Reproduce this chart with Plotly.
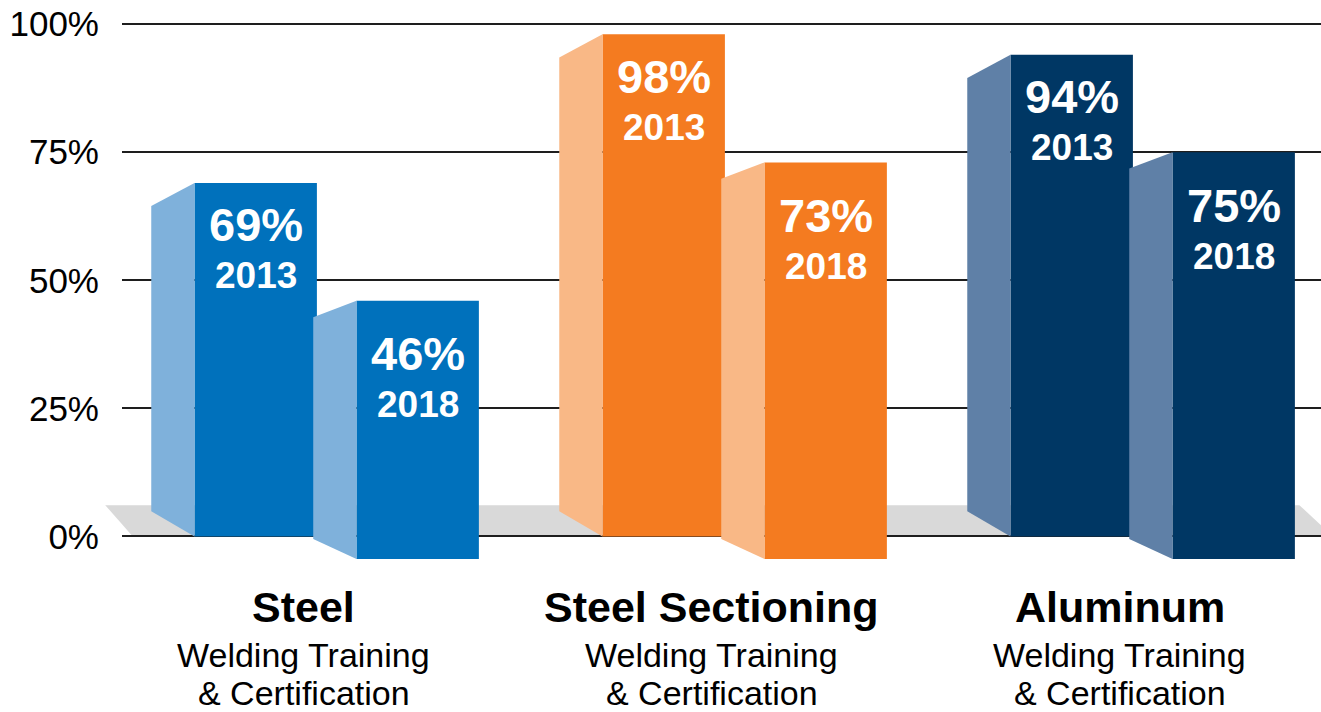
import plotly.graph_objects as go

# ---------------- data ----------------
categories = ["Steel", "Steel Sectioning", "Aluminum"]
subtitle_lines = ["Welding Training", "& Certification"]
years = ["2013", "2018"]
values_2013 = [69, 98, 94]
values_2018 = [46, 73, 75]
y_tick_values = [0, 25, 50, 75, 100]
y_tick_labels = ["0%", "25%", "50%", "75%", "100%"]

# ---------------- style ----------------
FONT = "Liberation Sans, Arial, sans-serif"
front_colors = ["#0071BC", "#F47B20", "#003764"]
side_colors = ["#7FB1DB", "#F9B886", "#5F80A7"]
FLOOR_COLOR = "#D9D9D9"
GRID_COLOR = "#1E1E1E"

Y_MIN, Y_MAX = -5, 101
X_MIN, X_MAX = -0.4453, 2.4934

BAR_W = 0.300
SIDE_DEPTH = 0.106
series_style = {
    "2013": dict(center=-0.1176, base=0.0, top_drop=4.5, bottom_rise=4.9, pct_shift=-42, year_shift=-93),
    "2018": dict(center=0.2794, base=-4.4, top_drop=3.2, bottom_rise=3.9, pct_shift=-53, year_shift=-104),
}
series_values = {"2013": values_2013, "2018": values_2018}

fig = go.Figure()
annotations = []

for yr in years:
    st = series_style[yr]
    vals = series_values[yr]
    xs = [i + st["center"] for i in range(len(categories))]
    # side (left, lighter) faces
    for i, v in enumerate(vals):
        xl = xs[i] - BAR_W / 2
        px = [xl - SIDE_DEPTH, xl, xl, xl - SIDE_DEPTH, xl - SIDE_DEPTH]
        py = [v - st["top_drop"], v, st["base"], st["base"] + st["bottom_rise"], v - st["top_drop"]]
        fig.add_trace(go.Scatter(
            x=px, y=py, mode="lines", fill="toself",
            fillcolor=side_colors[i], line=dict(width=0, color=side_colors[i]),
            hoverinfo="skip", showlegend=False,
        ))
    # front faces
    fig.add_trace(go.Bar(
        x=xs, y=[v - st["base"] for v in vals], base=[st["base"]] * len(vals),
        width=BAR_W, marker=dict(color=front_colors, line=dict(width=0)),
        name=yr, showlegend=False, hoverinfo="skip",
    ))
    for i, v in enumerate(vals):
        annotations.append(dict(
            x=xs[i], y=v, xref="x", yref="y", text=f"<b>{v}%</b>", showarrow=False,
            yanchor="middle", xanchor="center", yshift=st["pct_shift"],
            font=dict(family=FONT, size=47, color="white"),
        ))
        annotations.append(dict(
            x=xs[i], y=v, xref="x", yref="y", text=f"<b>{yr}</b>", showarrow=False,
            yanchor="middle", xanchor="center", yshift=st["year_shift"],
            font=dict(family=FONT, size=37, color="white"),
        ))

# category labels
for i, c in enumerate(categories):
    annotations.append(dict(
        x=i, y=0, xref="x", yref="paper", text=f"<b>{c}</b>", showarrow=False,
        yanchor="middle", xanchor="center", yshift=-45,
        font=dict(family=FONT, size=43, color="black"),
    ))
    for k, line in enumerate(subtitle_lines):
        annotations.append(dict(
            x=i, y=0, xref="x", yref="paper", text=line, showarrow=False,
            yanchor="middle", xanchor="center", yshift=-93 - 38 * k,
            font=dict(family=FONT, size=34, color="black"),
        ))

# floor (decorative 3D base)
def ypaper(v):
    return (v - Y_MIN) / (Y_MAX - Y_MIN)

FLOOR_TOP = 6.1
fy_top, fy_bot = ypaper(FLOOR_TOP), ypaper(0)
floor_path = (f"M -0.014,{fy_top} L 0.982,{fy_top} L 1.01,{fy_bot} L 0.009,{fy_bot} Z")

fig.update_layout(
    width=1321, height=712,
    margin=dict(l=122, r=0, t=19, b=150),
    paper_bgcolor="white", plot_bgcolor="white",
    showlegend=False,
    barmode="overlay",
    annotations=annotations,
    shapes=[dict(type="path", path=floor_path, xref="paper", yref="paper",
                 fillcolor=FLOOR_COLOR, line=dict(width=0), layer="below")],
    xaxis=dict(range=[X_MIN, X_MAX], showgrid=False, zeroline=False,
               showticklabels=False, showline=False, fixedrange=True),
    yaxis=dict(range=[Y_MIN, Y_MAX], tickvals=y_tick_values, ticktext=y_tick_labels,
               showgrid=True, gridcolor=GRID_COLOR, gridwidth=2, zeroline=False,
               showline=False, ticks="", ticklabelstandoff=22,
               tickfont=dict(family=FONT, size=35, color="black"), fixedrange=True),
)

fig.write_html(
    "out.html",
    config={"displayModeBar": False},
    post_script="document.body.style.margin='0';document.body.style.padding='0';",
)
